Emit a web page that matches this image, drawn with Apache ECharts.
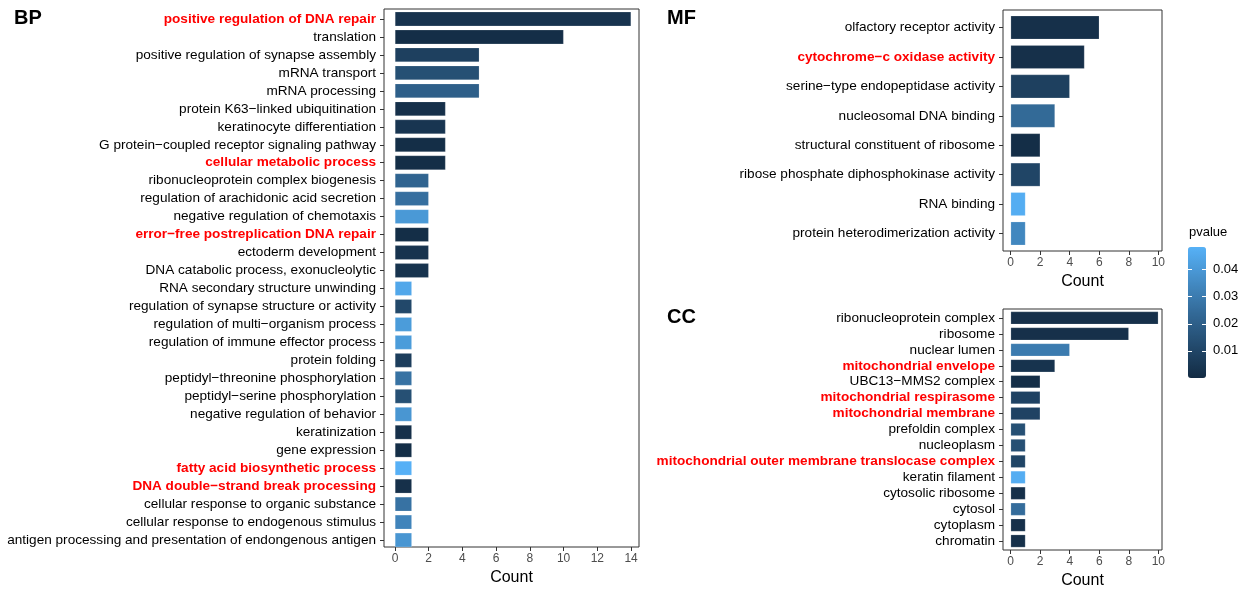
<!DOCTYPE html>
<html>
<head>
<meta charset="utf-8">
<script src="https://cdn.jsdelivr.net/npm/echarts@6/dist/echarts.min.js"></script>
<style>html,body{margin:0;padding:0;background:#fff}#c{width:1244px;height:591px}</style>
</head>
<body>
<div id="c"></div>
<script>
// ---------- DATA ----------
const bpTerms = [
  "positive regulation of DNA repair","translation","positive regulation of synapse assembly",
  "mRNA transport","mRNA processing","protein K63−linked ubiquitination","keratinocyte differentiation",
  "G protein−coupled receptor signaling pathway","cellular metabolic process",
  "ribonucleoprotein complex biogenesis","regulation of arachidonic acid secretion",
  "negative regulation of chemotaxis","error−free postreplication DNA repair","ectoderm development",
  "DNA catabolic process, exonucleolytic","RNA secondary structure unwinding",
  "regulation of synapse structure or activity","regulation of multi−organism process",
  "regulation of immune effector process","protein folding","peptidyl−threonine phosphorylation",
  "peptidyl−serine phosphorylation","negative regulation of behavior","keratinization","gene expression",
  "fatty acid biosynthetic process","DNA double−strand break processing",
  "cellular response to organic substance","cellular response to endogenous stimulus",
  "antigen processing and presentation of endongenous antigen"
];
const bpCounts = [14,10,5,5,5,3,3,3,3,2,2,2,2,2,2,1,1,1,1,1,1,1,1,1,1,1,1,1,1,1];
const bpP = [0.003,0.001,0.008,0.014,0.020,0.002,0.004,0.001,0.001,0.022,0.026,0.040,0.001,0.003,0.003,
             0.045,0.011,0.041,0.041,0.007,0.027,0.014,0.039,0.002,0.001,0.048,0.002,0.027,0.033,0.039];

const mfTerms = [
  "olfactory receptor activity","cytochrome−c oxidase activity","serine−type endopeptidase activity",
  "nucleosomal DNA binding","structural constituent of ribosome","ribose phosphate diphosphokinase activity",
  "RNA binding","protein heterodimerization activity"
];
const mfCounts = [6,5,4,3,2,2,1,1];
const mfP = [0.002,0.002,0.008,0.024,0.001,0.010,0.047,0.034];

const ccTerms = [
  "ribonucleoprotein complex","ribosome","nuclear lumen","mitochondrial envelope","UBC13−MMS2 complex",
  "mitochondrial respirasome","mitochondrial membrane","prefoldin complex","nucleoplasm",
  "mitochondrial outer membrane translocase complex","keratin filament","cytosolic ribosome",
  "cytosol","cytoplasm","chromatin"
];
const ccCounts = [10,8,4,3,2,2,2,1,1,1,1,1,1,1,1];
const ccP = [0.002,0.002,0.030,0.003,0.001,0.009,0.009,0.014,0.014,0.010,0.047,0.002,0.025,0.002,0.002];

const highlighted = [
  "positive regulation of DNA repair","cellular metabolic process","error−free postreplication DNA repair",
  "fatty acid biosynthetic process","DNA double−strand break processing","cytochrome−c oxidase activity",
  "mitochondrial envelope","mitochondrial respirasome","mitochondrial membrane",
  "mitochondrial outer membrane translocase complex"
];
const bpXTicks = [0,2,4,6,8,10,12,14];
const smallXTicks = [0,2,4,6,8,10];
const legendTicks = [0.01,0.02,0.03,0.04];
const pRange = [0, 0.0483];

// ---------- LAYOUT ----------
const FONT = "'Liberation Sans', Arial, sans-serif";
const panels = [
  {terms: bpTerms, counts: bpCounts, p: bpP, left: 384, top: 9, width: 255, height: 541, pad: 1,
   xmin: -0.65, xmax: 14.47, ticks: bpXTicks},
  {terms: mfTerms, counts: mfCounts, p: mfP, left: 1003, top: 10, width: 159, height: 241, pad: 2.8,
   xmin: -0.52, xmax: 10.25, ticks: smallXTicks},
  {terms: ccTerms, counts: ccCounts, p: ccP, left: 1003, top: 309, width: 159, height: 241, pad: 1,
   xmin: -0.52, xmax: 10.25, ticks: smallXTicks}
];

const grid = [], xAxis = [], yAxis = [], series = [];
panels.forEach((pn, k) => {
  const gOuter = grid.length;
  grid.push({left: pn.left, top: pn.top, width: pn.width, height: pn.height, show: true,
             borderColor: '#333333', borderWidth: 1, backgroundColor: 'transparent'});
  grid.push({left: pn.left, top: pn.top + pn.pad, width: pn.width, height: pn.height - 2 * pn.pad});
  // outer x axis (visible ticks + name)
  xAxis.push({type: 'value', gridIndex: gOuter, min: pn.xmin, max: pn.xmax, position: 'bottom',
    splitLine: {show: false}, axisLine: {show: false, onZero: false},
    axisTick: {show: true, length: 4, customValues: pn.ticks, lineStyle: {color: '#333333'}},
    axisLabel: {customValues: pn.ticks, color: '#4D4D4D', fontSize: 12, fontFamily: FONT, margin: 6},
    name: 'Count', nameLocation: 'middle', nameGap: 23,
    nameTextStyle: {fontSize: 16, color: '#000', fontFamily: FONT}});
  yAxis.push({type: 'value', gridIndex: gOuter, show: false, min: 0, max: 1});
  // inner axes
  xAxis.push({type: 'value', gridIndex: gOuter + 1, min: pn.xmin, max: pn.xmax, show: false});
  yAxis.push({type: 'category', gridIndex: gOuter + 1, data: pn.terms, inverse: true, position: 'left',
    axisLine: {show: false, onZero: false},
    axisTick: {show: true, alignWithLabel: true, length: 4, lineStyle: {color: '#333333'}},
    axisLabel: {margin: 8, interval: 0,
      formatter: v => highlighted.includes(v) ? '{r|' + v + '}' : '{n|' + v + '}',
      rich: {
        n: {color: '#000', fontSize: 13.6, fontFamily: FONT},
        r: {color: '#FF0000', fontSize: 13.6, fontWeight: 'bold', fontFamily: FONT}
      }}});
  series.push({type: 'bar', xAxisIndex: gOuter + 1, yAxisIndex: gOuter + 1, barWidth: '80%',
    encode: {x: 0, y: 1},
    data: pn.counts.map((c, i) => [c, pn.terms[i], pn.p[i]]),
    itemStyle: {borderColor: 'rgba(255,255,255,0.35)', borderWidth: 0.5}});
});

// legend colour bar axes
const gLeg = grid.length;
grid.push({left: 1188, top: 247, width: 18, height: 131});
xAxis.push({type: 'value', gridIndex: gLeg, show: false, min: 0, max: 1});
yAxis.push({type: 'value', gridIndex: gLeg, min: pRange[0], max: pRange[1], position: 'right', z: 10,
  splitLine: {show: false}, axisLine: {show: false, onZero: false},
  axisTick: {show: true, inside: true, length: 4, customValues: legendTicks, lineStyle: {color: '#fff', width: 1}},
  axisLabel: {customValues: legendTicks, color: '#000', fontSize: 13, fontFamily: FONT, margin: 7,
    formatter: v => v.toFixed(2)}});
yAxis.push({type: 'value', gridIndex: gLeg, min: pRange[0], max: pRange[1], position: 'left', z: 10,
  splitLine: {show: false}, axisLine: {show: false, onZero: false},
  axisTick: {show: true, inside: true, length: 4, customValues: legendTicks, lineStyle: {color: '#fff', width: 1}},
  axisLabel: {show: false}});

const option = {
  animation: false,
  backgroundColor: '#fff',
  grid, xAxis, yAxis, series,
  visualMap: {type: 'continuous', min: pRange[0], max: pRange[1], dimension: 2, seriesIndex: [0, 1, 2],
    inRange: {color: ['#132B43', '#336A98', '#56B1F7']},
    left: 1188, top: 247, itemWidth: 18, itemHeight: 131, padding: 0, calculable: false,
    showLabel: false, text: null, z: 1},
  graphic: [
    {type: 'text', left: 14, top: 8, style: {text: 'BP', font: 'bold 20px ' + FONT, fill: '#000'}},
    {type: 'text', left: 667, top: 8, style: {text: 'MF', font: 'bold 20px ' + FONT, fill: '#000'}},
    {type: 'text', left: 667, top: 307, style: {text: 'CC', font: 'bold 20px ' + FONT, fill: '#000'}},
    {type: 'text', left: 1189, top: 226, style: {text: 'pvalue', font: '13px ' + FONT, fill: '#000'}}
  ]
};
echarts.init(document.getElementById('c')).setOption(option);
</script>
</body>
</html>
